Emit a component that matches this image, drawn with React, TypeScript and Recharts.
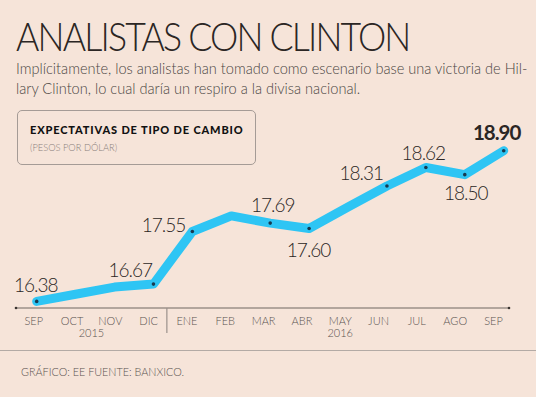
import React from 'react';
import { LineChart, Line, XAxis, YAxis, LabelList } from 'recharts';

const months = ['SEP', 'OCT', 'NOV', 'DIC', 'ENE', 'FEB', 'MAR', 'ABR', 'MAY', 'JUN', 'JUL', 'AGO', 'SEP'];
const rates = [16.38, 16.5, 16.62, 16.67, 17.55, 17.81, 17.69, 17.6, 17.96, 18.31, 18.62, 18.5, 18.9];
// which points carry a value label (and a dot)
const labelled = [true, false, false, true, true, false, true, true, false, true, true, true, true];
// year groups: [label, first month index, last month index]
const years: [string, number, number][] = [
  ['2015', 0, 3],
  ['2016', 4, 12],
];
const yearBreak = 4; // first month of 2016

const data = months.map((m, i) => ({ key: i, month: m, rate: rates[i] }));

const BG = '#f6e4d9';
const INK = '#2b2624';
const GREY = '#5a5350';
const STEP = 38.9;

// label offsets per point: [dx, dy, anchor]
const labelPos: [number, number, string][] = [
  [-1, -9.5, 'middle'],
  [0, 0, 'middle'],
  [0, 0, 'middle'],
  [-1.5, -7, 'end'],
  [-7, 1, 'end'],
  [0, 0, 'middle'],
  [2.5, -11.5, 'middle'],
  [-0.5, 29, 'middle'],
  [0, 0, 'middle'],
  [-4, -6, 'end'],
  [-2.5, -7.5, 'middle'],
  [1, 25, 'middle'],
  [-7, -11, 'middle'],
];

const renderLabel = (props: any) => {
  const { x, y, index, value } = props;
  if (!labelled[index]) return null;
  const [dx, dy, anchor] = labelPos[index];
  const last = index === rates.length - 1;
  return (
    <text
      x={x + dx}
      y={y + dy}
      textAnchor={anchor as any}
      fontSize={last ? 20.5 : 19}
      letterSpacing={-1}
      fontWeight={last ? 700 : 300}
      fill={INK}
      fontFamily="Lato, sans-serif"
    >
      {value.toFixed(2)}
    </text>
  );
};

const MonthTick = (props: any) => {
  const { x, y, index } = props;
  const tx = x - 3 - index * 0.6;
  const yr = years.find((g) => Math.floor((g[1] + g[2]) / 2) === index);
  let yx = tx;
  if (yr && (yr[1] + yr[2]) % 2 === 1) yx = tx + STEP / 2;
  return (
    <g>
      <text x={tx} y={y + 16.5} textAnchor="middle" fontSize={11} fill={GREY} fontFamily="Lato, sans-serif" fontWeight={300}>
        {months[index]}
      </text>
      {yr && (
        <text x={yx} y={y + 29} textAnchor="middle" fontSize={11} fill={GREY} fontFamily="Lato, sans-serif" fontWeight={300}>
          {yr[0]}
        </text>
      )}
      {index === yearBreak && (
        <line x1={x - 25.5} x2={x - 25.5} y1={y} y2={y + 25} stroke="#9a918c" strokeWidth={1.2} />
      )}
      {index === 0 && <circle cx={x - 20.7} cy={y} r={1.3} fill="#3a3431" />}
      {index === months.length - 1 && <circle cx={x + 5.3} cy={y} r={1.3} fill="#3a3431" />}
    </g>
  );
};

const Dot = (props: any) => {
  const { cx, cy, index } = props;
  if (!labelled[index]) return <g />;
  return <circle cx={cx} cy={cy} r={1.8} fill="#173a50" />;
};

export default function App() {
  return (
    <div style={{ position: 'fixed', left: 0, top: 0, width: 536, height: 397, background: BG, overflow: 'hidden', fontFamily: 'Lato, sans-serif' }}>
      <div style={{ position: 'absolute', left: 16, top: 14, fontSize: 39, fontWeight: 300, color: INK, letterSpacing: -2, whiteSpace: 'nowrap', lineHeight: '44px', transform: 'scaleX(0.915)', transformOrigin: 'left top' }}>
        ANALISTAS CON CLINTON
      </div>
      <div style={{ position: 'absolute', left: 16, top: 59, width: 530, fontSize: 14.6, fontWeight: 300, color: '#4a4442', lineHeight: '20px', whiteSpace: 'nowrap' }}>
        Implícitamente, los analistas han tomado como escenario base una victoria de Hil-
        <br />
        lary Clinton, lo cual daría un respiro a la divisa nacional.
      </div>
      <div style={{ position: 'absolute', left: 17, top: 110, width: 239, height: 55, border: '1px solid #a59b96', borderRadius: 5, boxSizing: 'border-box' }} />
      <div style={{ position: 'absolute', left: 30, top: 123, fontSize: 11, fontWeight: 900, color: '#111', whiteSpace: 'nowrap', letterSpacing: 0.85 }}>
        EXPECTATIVAS DE TIPO DE CAMBIO
      </div>
      <div style={{ position: 'absolute', left: 30, top: 142, fontSize: 9.3, fontWeight: 300, color: '#8a807b', whiteSpace: 'nowrap' }}>
        (PESOS POR DÓLAR)
      </div>
      <div style={{ position: 'absolute', left: 0, top: 350, width: 536, height: 1, background: '#b3aaa5' }} />
      <div style={{ position: 'absolute', left: 21, top: 365, fontSize: 10.8, fontWeight: 300, color: GREY, whiteSpace: 'nowrap' }}>
        GRÁFICO: EE FUENTE: BANXICO.
      </div>
      <div style={{ position: 'absolute', left: 0, top: 0 }}>
        <LineChart width={536} height={397} data={data} margin={{ top: 128.6, right: 27, bottom: 49, left: 16 }}>
          <XAxis
            dataKey="key"
            type="category"
            padding={{ left: 20.7, right: 5.3 }}
            height={40}
            tickLine={false}
            tickSize={0}
            tickMargin={0}
            axisLine={{ stroke: '#6e6661', strokeWidth: 1 }}
            tick={<MonthTick />}
            interval={0}
          />
          <YAxis hide domain={[16.27, 19.27]} />
          <Line
            type="linear"
            dataKey="rate"
            stroke="#2ec5f4"
            strokeWidth={9}
            strokeLinecap="round"
            strokeLinejoin="round"
            dot={<Dot />}
            activeDot={false}
            isAnimationActive={false}
          >
            <LabelList dataKey="rate" content={renderLabel} />
          </Line>
        </LineChart>
      </div>
    </div>
  );
}
